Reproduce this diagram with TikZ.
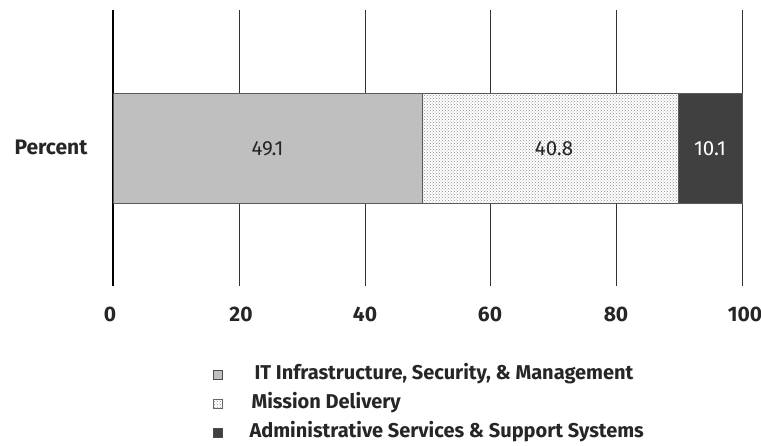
\documentclass[tikz,border=0pt]{standalone}
\usepackage{fontspec}
\setmainfont{Fira Sans}
\usepackage{xcolor}
\usetikzlibrary{patterns}

\definecolor{infragray}{HTML}{BFBFBF}
\definecolor{admindark}{HTML}{404040}
\definecolor{edgegray}{HTML}{5A5A5A}

\tikzset{
	lbl/.style={font=\fontsize{21}{24}\selectfont\bfseries,text=black!85},
	keytext/.style={font=\fontsize{20}{24}\selectfont\bfseries,text=black!85,anchor=west},
	val/.style={font=\fontsize{20.5}{24}\selectfont},
	seg/.style={draw=edgegray,line width=1pt},
	dotfill/.style={pattern=crosshatch dots,pattern color=black!45},
	keybox/.style={draw=black!70,line width=0.8pt,minimum size=9pt,inner sep=0pt},
}

\begin{document}
\begin{tikzpicture}[x=1pt,y=-1pt]
	\useasboundingbox (0,0) rectangle (761,445);
	% grid lines
	\draw[line width=1.4pt,black] (113,10) -- (113,286);
	\draw[line width=1pt,black!80] (239,10) -- (239,286);
	\draw[line width=1pt,black!80] (365,10) -- (365,286);
	\draw[line width=1pt,black!80] (490,10) -- (490,286);
	\draw[line width=1pt,black!80] (616,10) -- (616,286);
	\draw[line width=1pt,black!80] (742,10) -- (742,286);
	% bar
	\fill[white] (422,93) rectangle (678,203);
	\filldraw[seg,fill=infragray] (113,93) rectangle (422,203);
	\draw[seg,dotfill] (422,93) rectangle (678,203);
	\filldraw[seg,fill=admindark] (678,93) rectangle (742,203);
	\node[val,text=black!85] (v1) at (267.5,149) {49.1};
	\node[val,text=black!85] (v2) at (554,149) {40.8};
	\node[val,text=white] (v3) at (710,149) {10.1};
	\node[lbl] (cat) at (51,147) {Percent};
	% tick labels
	\node[lbl] (t0) at (110,314) {0};
	\node[lbl] (t20) at (241,314) {20};
	\node[lbl] (t40) at (365,314) {40};
	\node[lbl] (t60) at (490,314) {60};
	\node[lbl] (t80) at (616,314) {80};
	\node[lbl] (t100) at (745,314) {100};
	% legend
	\node[keybox,fill=infragray] (k1) at (218,375) {};
	\node[keybox,draw=black!60,dotfill] (k2) at (218,404) {};
	\node[keybox,fill=admindark] (k3) at (218,433) {};
	\node[keytext] (l1) at (251,374) {IT Infrastructure, Security, \& Management};
	\node[keytext] (l2) at (248,403) {Mission Delivery};
	\node[keytext] (l3) at (246,432) {Administrative Services \& Support Systems};
\end{tikzpicture}
\end{document}
